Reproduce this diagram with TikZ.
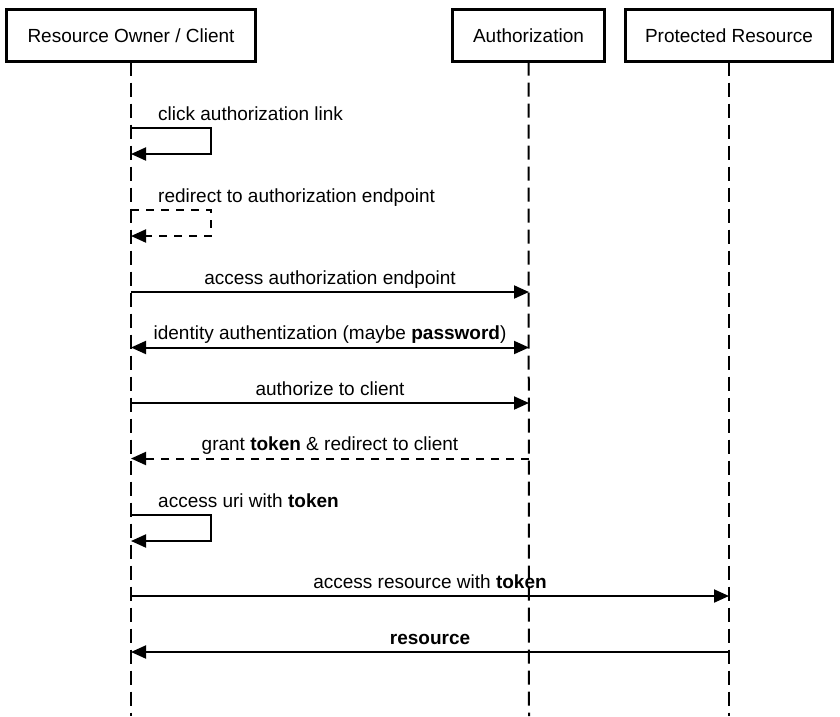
\documentclass[tikz,border=0pt]{standalone}
\usepackage{fontspec}
\setmainfont{Liberation Sans}
\usetikzlibrary{arrows.meta}
\begin{document}
\begin{tikzpicture}[x=1pt,y=-1pt,
  actor/.style={draw, line width=3pt, inner sep=0pt, outer sep=0pt, minimum height=52pt, font=\fontsize{19}{22}\selectfont},
  life/.style={line width=2pt, dash pattern=on 14pt off 7pt},
  msg/.style={line width=2pt, -{Triangle[length=15pt,width=13pt]}},
  dmsg/.style={msg, dash pattern=on 8pt off 7pt},
  lbl/.style={anchor=base, inner sep=0pt, font=\fontsize{19}{22}\selectfont}]
\useasboundingbox (0,0) rectangle (840,716);
% actors
\node[actor, minimum width=249pt] (roc) at (131,35.5) {Resource Owner / Client};
\node[actor, minimum width=152pt] (auth) at (528.5,35.5) {Authorization};
\node[actor, minimum width=207pt] (prot) at (729,35.5) {Protected Resource};
% lifeline ends
\coordinate (e1) at (131,716);
\coordinate (e2) at (529,716);
\coordinate (e3) at (729,716);
\draw[life] (roc.south) -- (e1);
\draw[life] (auth.south) -- (e2);
\draw[life] (prot.south) -- (e3);
% message anchors
\coordinate (a1) at (131,128); \coordinate (b1) at (131,154);
\coordinate (a2) at (131,210); \coordinate (b2) at (131,236);
\coordinate (c3) at (131,292); \coordinate (d3) at (529,292);
\coordinate (c4) at (131,347.5); \coordinate (d4) at (529,347.5);
\coordinate (c5) at (131,403); \coordinate (d5) at (529,403);
\coordinate (c6) at (131,458.5); \coordinate (d6) at (529,458.5);
\coordinate (a7) at (131,515); \coordinate (b7) at (131,541);
\coordinate (c8) at (131,596); \coordinate (d8) at (729,596);
\coordinate (c9) at (131,652); \coordinate (d9) at (729,652);
% messages
\draw[msg] (a1) -- ++(80,0) |- (b1);
\node[lbl, anchor=base west] at (158,120) {click authorization link};
\draw[dmsg] (a2) -- ++(80,0) |- (b2);
\node[lbl, anchor=base west] at (158,202) {redirect to authorization endpoint};
\draw[msg] (c3) -- (d3);
\node[lbl] at (330,284) {access authorization endpoint};
\draw[line width=2pt, {Triangle[length=15pt,width=13pt]}-{Triangle[length=15pt,width=13pt]}] (c4) -- (d4);
\node[lbl] at (330,339.5) {identity authentization (maybe \textbf{password})};
\draw[msg] (c5) -- (d5);
\node[lbl] at (330,395) {authorize to client};
\draw[dmsg] (d6) -- (c6);
\node[lbl] at (330,450.5) {grant \textbf{token} \& redirect to client};
\draw[msg] (a7) -- ++(80,0) |- (b7);
\node[lbl, anchor=base west] at (158,507) {access uri with \textbf{token}};
\draw[msg] (c8) -- (d8);
\node[lbl] at (430,588) {access resource with \textbf{token}};
\draw[msg] (d9) -- (c9);
\node[lbl] at (430,644) {\textbf{resource}};
\end{tikzpicture}
\end{document}
